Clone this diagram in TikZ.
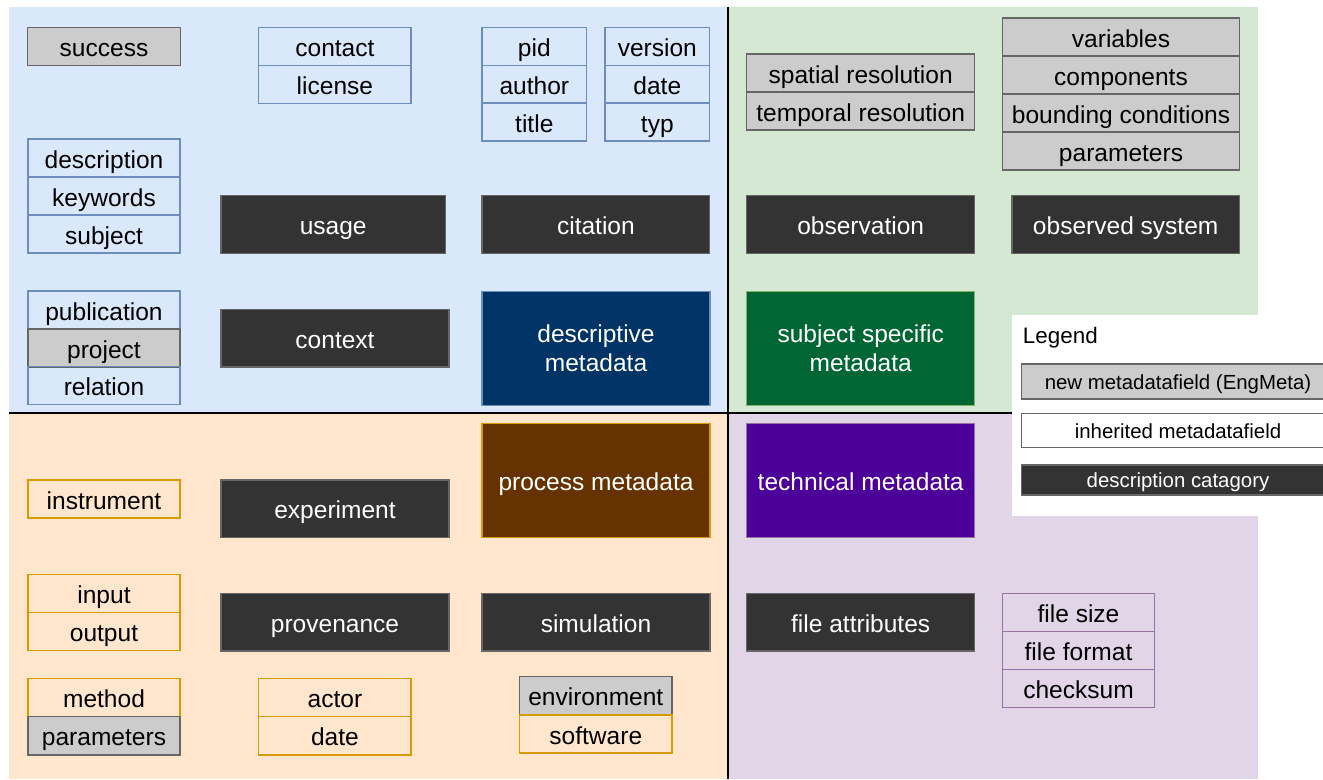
\documentclass[tikz,border=0pt]{standalone}
\usepackage{fontspec}
\setmainfont{Liberation Sans}
\definecolor{blueBg}{HTML}{DAE8FC}
\definecolor{blueLn}{HTML}{6C8EBF}
\definecolor{greenBg}{HTML}{D5E8D4}
\definecolor{greenLn}{HTML}{82B366}
\definecolor{orangeBg}{HTML}{FFE6CC}
\definecolor{orangeLn}{HTML}{D79B00}
\definecolor{purpleBg}{HTML}{E1D5E7}
\definecolor{purpleLn}{HTML}{9673A6}
\definecolor{grayF}{HTML}{CCCCCC}
\definecolor{grayLn}{HTML}{666666}
\definecolor{darkF}{HTML}{333333}
\definecolor{descF}{HTML}{003366}
\definecolor{subjF}{HTML}{006633}
\definecolor{procF}{HTML}{663300}
\definecolor{techF}{HTML}{4C0099}
\begin{document}
\begin{tikzpicture}[x=0.75pt,y=-0.75pt,
  sz/.style 2 args={minimum width=#1*0.75pt, minimum height=#2*0.75pt},
  base/.style={rectangle, inner sep=0pt, line width=1.1pt, font=\fontsize{18.4}{22}\selectfont, text height=15pt, text depth=0pt},
  inh/.style={base, draw=#1},
  newf/.style={base, draw=grayLn, fill=grayF},
  cat/.style={base, draw=grayLn, fill=darkF, text=white},
  mainone/.style={base, draw=#1, text=white},
  maintwo/.style={rectangle, inner sep=0pt, line width=1.1pt, font=\fontsize{18.4}{22}\selectfont, draw=#1, text=white, align=center},
  lg/.style={rectangle, inner sep=0pt, line width=1.1pt, font=\fontsize{15.3}{18}\selectfont, text height=11.5pt, text depth=0pt, draw=grayLn},
  divider/.style={line width=1.5pt, draw=black}
]
\useasboundingbox (0,0) rectangle (1323,779);
% quadrant backgrounds
\fill[blueBg] (9,6.5) rectangle (728.4,413.3);
\fill[greenBg] (728.4,6.5) rectangle (1257.7,413.3);
\fill[orangeBg] (9,413.3) rectangle (728.4,779);
\fill[purpleBg] (728.4,413.3) rectangle (1257.7,779);
\draw[divider] (9,413.3) -- (1012.3,413.3);
\draw[divider] (728.4,6.5) -- (728.4,779);

% descriptive quadrant
\node[newf, sz={152.6}{38.4}] (success) at (104,46.5) {success};
\node[inh=blueLn, sz={152.3}{38}] (contact) at (334.9,46.5) {contact};
\node[inh=blueLn, sz={152.3}{38}] (license) at (334.9,84.5) {license};
\node[inh=blueLn, sz={104.7}{38}] (pid) at (534.3,46.5) {pid};
\node[inh=blueLn, sz={104.7}{38}] (author) at (534.3,84.5) {author};
\node[inh=blueLn, sz={104.7}{38}] (title) at (534.3,122.2) {title};
\node[inh=blueLn, sz={104.7}{38}] (version) at (657.3,46.5) {version};
\node[inh=blueLn, sz={104.7}{38}] (date1) at (657.3,84.5) {date};
\node[inh=blueLn, sz={104.7}{38}] (typ) at (657.3,122.2) {typ};
\node[inh=blueLn, sz={152.3}{38}] (description) at (104,158) {description};
\node[inh=blueLn, sz={152.3}{38}] (keywords) at (104,196) {keywords};
\node[inh=blueLn, sz={152.3}{38}] (subject) at (104,234) {subject};
\node[cat, sz={224.3}{57.6}] (usage) at (333.2,224.5) {usage};
\node[cat, sz={227.7}{57.6}] (citation) at (595.9,224.5) {citation};
\node[inh=blueLn, sz={152.3}{38.3}] (publication) at (104,310) {publication};
\node[newf, sz={152.3}{37.6}] (project) at (104,348) {project};
\node[inh=blueLn, sz={152.3}{37.6}] (relation) at (104,385.5) {relation};
\node[cat, sz={228}{57.3}] (context) at (335,338.3) {context};
\node[maintwo=blueLn, fill=descF, sz={228}{114}] (descriptive) at (596,348.5) {descriptive\\metadata};

% subject specific quadrant
\node[newf, sz={228}{38}] (spatial) at (860.7,73) {spatial resolution};
\node[newf, sz={228}{38}] (temporal) at (860.7,111) {temporal resolution};
\node[newf, sz={236.6}{38}] (variables) at (1121,37) {variables};
\node[newf, sz={236.6}{38}] (components) at (1121,75) {components};
\node[newf, sz={236.6}{38}] (bounding) at (1121,113) {bounding conditions};
\node[newf, sz={236.6}{38}] (parameters1) at (1121,151) {parameters};
\node[cat, sz={228}{57.6}] (observation) at (860.7,224.5) {observation};
\node[cat, sz={227.3}{57.6}] (observed) at (1125.7,224.5) {observed system};
\node[maintwo=greenLn, fill=subjF, sz={228}{114}] (subjectspec) at (860.7,348.5) {subject specific\\metadata};

% process quadrant
\node[inh=orangeLn, sz={152.3}{38.3}] (instrument) at (104,499) {instrument};
\node[cat, sz={228}{57.7}] (experiment) at (335,508.8) {experiment};
\node[mainone=orangeLn, fill=procF, sz={228}{114}] (process) at (596,480.3) {process metadata};
\node[inh=orangeLn, sz={152.3}{38.3}] (input) at (104,593.5) {input};
\node[inh=orangeLn, sz={152.3}{38}] (output) at (104,631.7) {output};
\node[cat, sz={228}{57.3}] (provenance) at (335,622.3) {provenance};
\node[cat, sz={228}{57.3}] (simulation) at (596,622.3) {simulation};
\node[inh=orangeLn, sz={152.3}{38}] (method) at (104,697.7) {method};
\node[newf, sz={152.3}{38.3}] (parameters2) at (104,735.8) {parameters};
\node[inh=orangeLn, sz={152.3}{38}] (actor) at (334.9,697.7) {actor};
\node[inh=orangeLn, sz={152.3}{38.3}] (date2) at (334.9,735.8) {date};
\node[newf, sz={152.3}{38.3}] (environment) at (595.8,695.8) {environment};
\node[inh=orangeLn, sz={152.3}{38}] (software) at (595.8,734) {software};

% technical quadrant
\node[mainone=purpleLn, fill=techF, sz={228}{114}] (technical) at (860.7,480.3) {technical metadata};
\node[cat, sz={228}{57.3}] (fileattr) at (860.7,622.3) {file attributes};
\node[inh=purpleLn, sz={151.6}{38}] (filesize) at (1078.5,612.7) {file size};
\node[inh=purpleLn, sz={151.6}{38}] (fileformat) at (1078.5,650.7) {file format};
\node[inh=purpleLn, sz={151.6}{38}] (checksum) at (1078.5,688.7) {checksum};

% legend
\begin{scope}
\clip (0,0) rectangle (1323,779);
\fill[white] (1012.3,315) rectangle (1345,516);
\node[anchor=west, inner sep=0pt, font=\fontsize{16.8}{20}\selectfont, text height=12.5pt, text depth=0pt] (legendtitle) at (1022.7,335.5) {Legend};
\node[lg, fill=grayF, sz={313}{35}] (lnew) at (1178,381.5) {new metadatafield (EngMeta)};
\node[lg, fill=white, sz={313}{34.4}] (linh) at (1178,430.5) {inherited metadatafield};
\node[lg, fill=darkF, text=white, sz={313}{30}] (lcat) at (1178,480) {description catagory};
\end{scope}
\end{tikzpicture}
\end{document}
